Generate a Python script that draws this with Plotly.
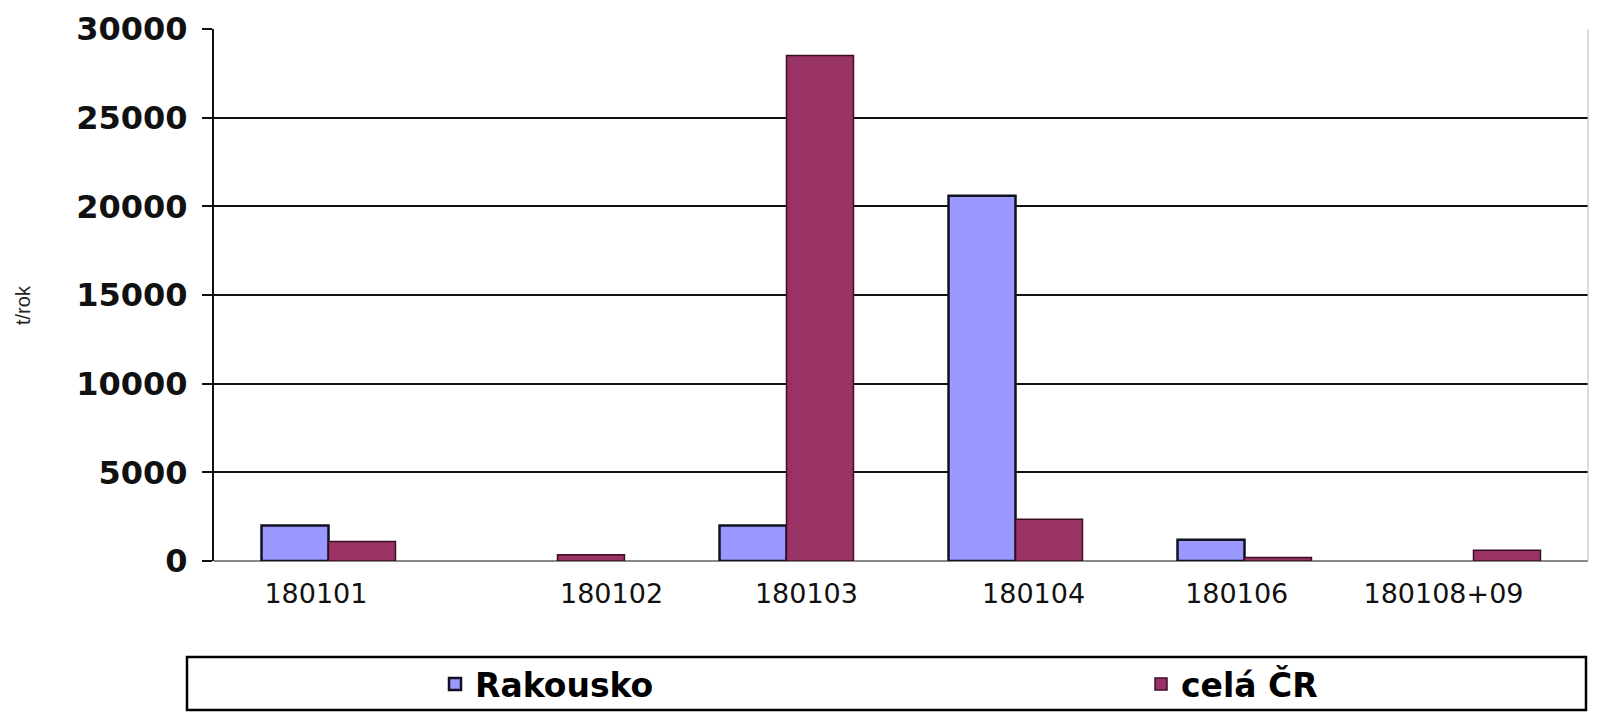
import plotly.graph_objects as go

categories = ["180101", "180102", "180103", "180104", "180106", "180108+09"]
rakousko = [2000, None, 2000, 20600, 1200, None]
cela_cr = [1100, 350, 28500, 2350, 200, 600]
y_ticks = [0, 5000, 10000, 15000, 20000, 25000, 30000]
# horizontal nudge of each category label (in category units), as in the original
label_nudge = [-0.055, 0.236, 0.087, 0.079, -0.034, -0.131]

idx = list(range(len(categories)))

# the page adds an 8px body margin around the figure
OFF = 8
FW, FH = 1605 - OFF, 714 - OFF
L, R, T, B = 206, 17, 21, 153
W = FW - L - R
H = FH - T - B


def px(xp):
    return (xp - OFF - L) / W


def py(yp):
    return (FH - B - (yp - OFF)) / H


fig = go.Figure()
fig.add_trace(go.Bar(
    x=idx, y=rakousko, name="Rakousko", legend="legend",
    marker=dict(color="#9999FF", line=dict(color="#111122", width=2.5)),
))
fig.add_trace(go.Bar(
    x=idx, y=cela_cr, name="celá ČR", legend="legend2",
    marker=dict(color="#993366", line=dict(color="#3a0f25", width=1.5)),
))

leg_font = dict(family="DejaVu Sans", size=33, color="black", weight="bold")
leg_common = dict(
    orientation="h", xanchor="left", y=py(684), yanchor="middle",
    font=leg_font, bgcolor="rgba(0,0,0,0)", borderwidth=0,
)

fig.update_layout(
    width=FW, height=FH,
    margin=dict(l=L, r=R, t=T, b=B, autoexpand=False),
    paper_bgcolor="white", plot_bgcolor="white",
    barmode="group", bargap=0.415, bargroupgap=0,
    showlegend=True,
    legend=dict(x=px(435), **leg_common),
    legend2=dict(x=px(1141), **leg_common),
    xaxis=dict(
        range=[-0.5, len(categories) - 0.5],
        tickmode="array",
        tickvals=[i + d for i, d in zip(idx, label_nudge)],
        ticktext=categories,
        ticks="", showgrid=False, showline=False, zeroline=False,
        tickfont=dict(family="DejaVu Sans", size=27, color="#111111"),
        ticklabelstandoff=14, automargin=False,
    ),
    yaxis=dict(
        range=[0, 30000], tickvals=y_ticks, tickformat="d",
        showgrid=True, gridcolor="#111111", gridwidth=2,
        zeroline=True, zerolinecolor="#888888", zerolinewidth=1.5,
        showline=True, linecolor="#111111", linewidth=2,
        ticks="outside", ticklen=10, tickcolor="#111111", tickwidth=2,
        tickfont=dict(family="DejaVu Sans", size=32, color="#111111", weight="bold"),
        ticklabelstandoff=8, automargin=False,
    ),
    annotations=[dict(
        text="t/rok", xref="paper", yref="paper",
        x=px(23), y=py(305), xanchor="center", yanchor="middle",
        textangle=-90, showarrow=False,
        font=dict(family="Liberation Sans", size=20, color="#222222"),
    )],
    shapes=[
        dict(type="rect", xref="paper", yref="paper",
             x0=px(187), x1=px(1586),
             y0=py(710), y1=py(657),
             line=dict(color="black", width=2.5), fillcolor="rgba(0,0,0,0)",
             layer="above"),
        dict(type="line", xref="paper", yref="paper",
             x0=1, x1=1, y0=0, y1=1,
             line=dict(color="#bbbbbb", width=1)),
    ],
)

fig.write_html("out.html")
